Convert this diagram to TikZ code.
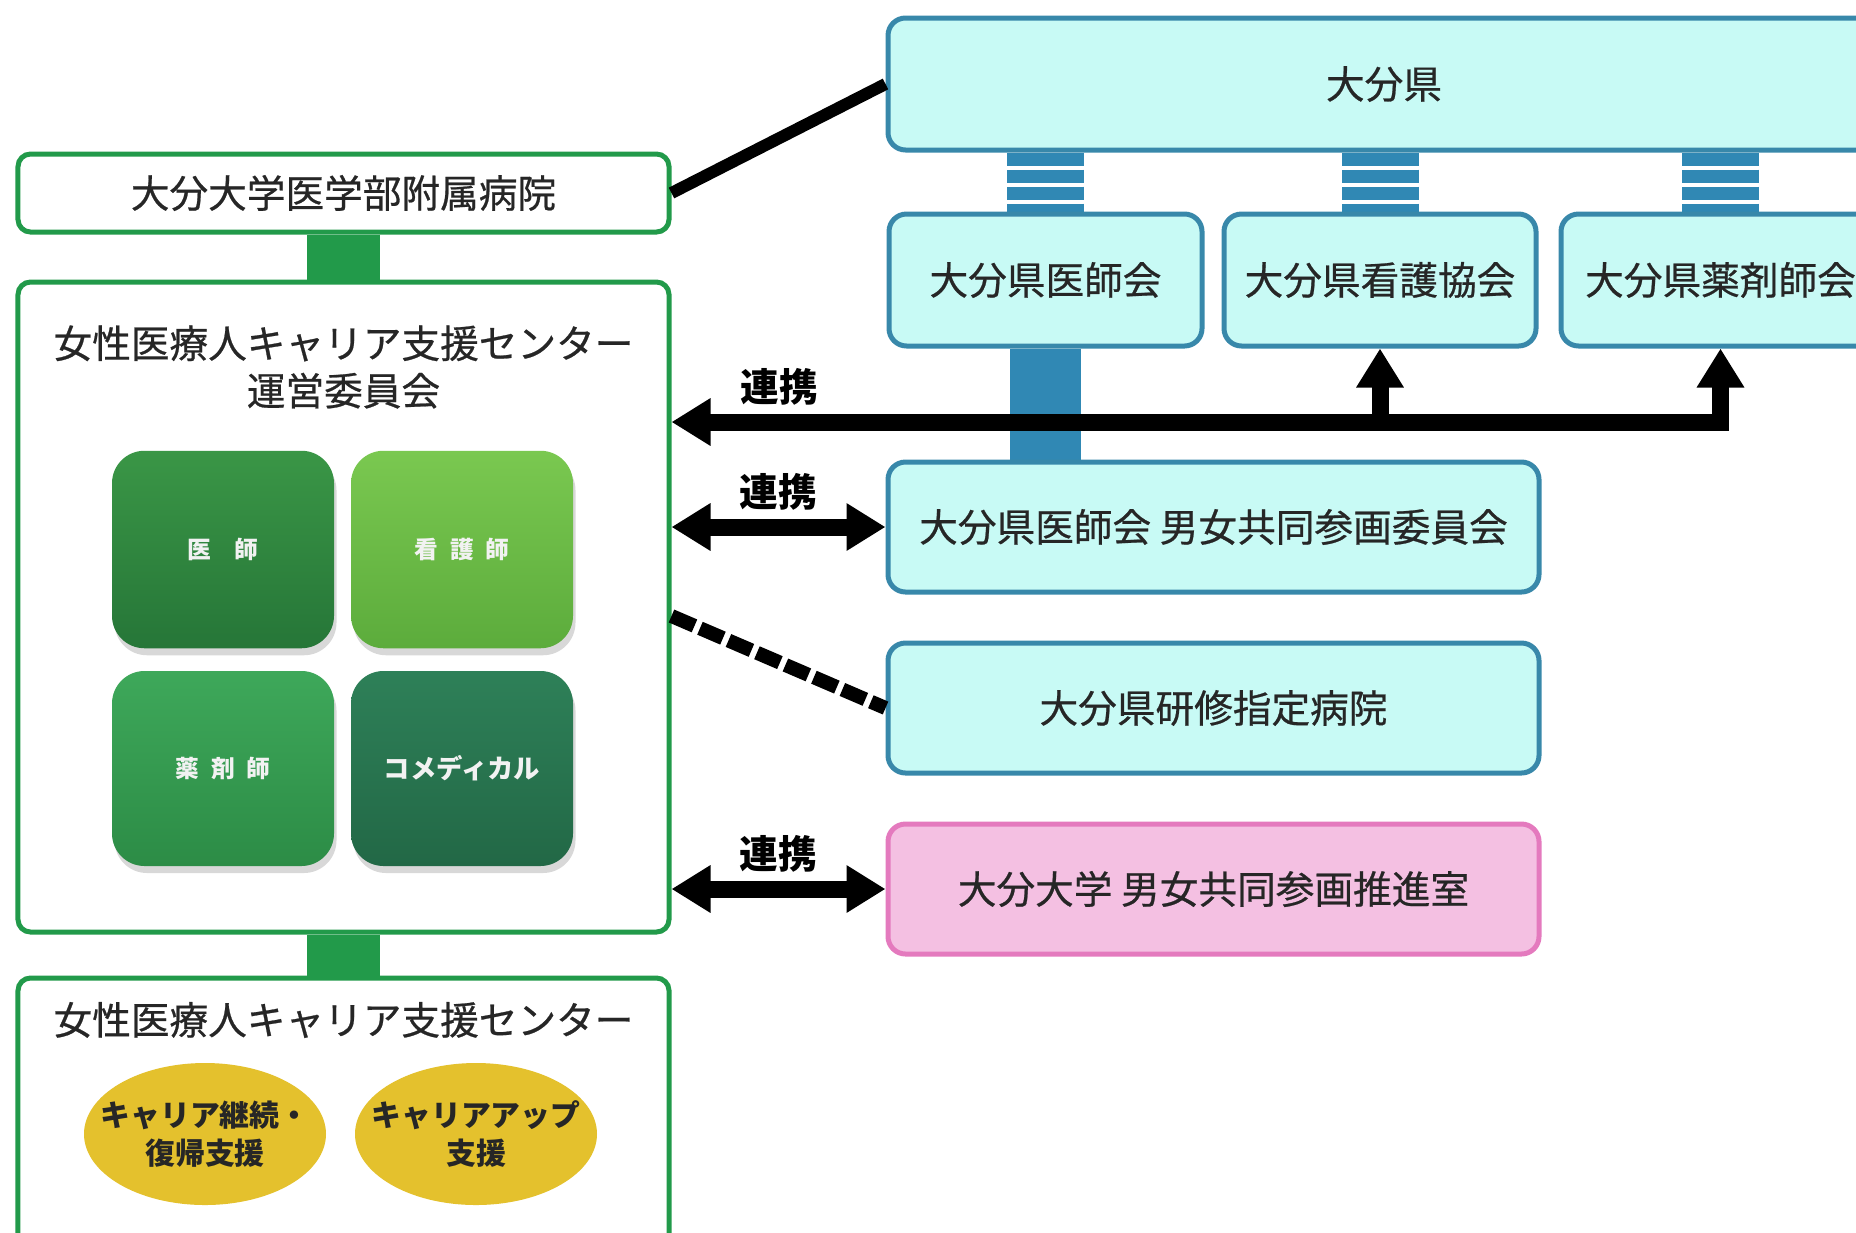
\documentclass[tikz,border=0pt]{standalone}
\usepackage{fontspec}
\setmainfont{Noto Sans CJK JP}
\newfontfamily\boxfont{Noto Sans CJK JP}[FakeBold=0.6]
\usetikzlibrary{arrows.meta, positioning, shapes.geometric, shadows, backgrounds}
\definecolor{oitagreen}{RGB}{34,154,74}
\definecolor{cyanfill}{RGB}{200,250,245}
\definecolor{cyanline}{RGB}{56,136,170}
\definecolor{barblue}{RGB}{48,136,180}
\definecolor{pinkfill}{RGB}{244,192,226}
\definecolor{pinkline}{RGB}{228,122,190}
\definecolor{ovalgold}{RGB}{228,193,45}
\definecolor{doctop}{RGB}{58,150,70}
\definecolor{docbot}{RGB}{38,118,56}
\definecolor{nursetop}{RGB}{122,200,80}
\definecolor{nursebot}{RGB}{92,172,60}
\definecolor{pharmtop}{RGB}{62,168,90}
\definecolor{pharmbot}{RGB}{44,140,70}
\definecolor{comedtop}{RGB}{46,128,88}
\definecolor{comedbot}{RGB}{34,104,70}

\begin{document}
\begin{tikzpicture}[
    txt/.style={text=black!85, font=\boxfont\fontsize{22}{27}\selectfont, align=center},
    gbox/.style={txt, draw=oitagreen, line width=0.1cm, fill=white, rectangle, rounded corners=0.25cm, minimum width=13.02cm},
    bbox/.style={txt, draw=cyanline, line width=0.1cm, fill=cyanfill, rectangle, rounded corners=0.35cm, minimum height=2.6cm},
    pbox/.style={bbox, draw=pinkline, fill=pinkfill},
    tile/.style={rectangle, rounded corners=0.65cm, minimum width=4.44cm, minimum height=3.95cm, text=white!95!black, font=\fontsize{13.5}{16}\selectfont\bfseries,
        drop shadow={shadow xshift=0.05cm, shadow yshift=-0.14cm, opacity=0.3}},
    oval/.style={ellipse, fill=ovalgold, inner xsep=-0.4cm, minimum width=4.84cm, minimum height=2.84cm, align=center, text=black!85, font=\fontsize{17}{21.5}\selectfont\bfseries},
    gbar/.style={draw=oitagreen, line width=1.46cm},
    bbar/.style={draw=barblue, line width=1.42cm},
    stripebar/.style={draw=barblue, line width=1.54cm, dash pattern=on 0.26cm off 0.08cm},
    link/.style={line width=0.24cm},
    coop/.style={line width=0.34cm},
    coopl/.style={font=\fontsize{22}{26}\selectfont\bfseries},
    dashlink/.style={line width=0.28cm, dash pattern=on 0.5cm off 0.12cm},
    tip/.tip={Triangle[length=0.78cm, width=0.9cm]}
]
% Frame
\useasboundingbox (0,0) rectangle (37.12,-24.64);
\clip (0,0) rectangle (37.12,-24.64);

% Hospital and committee
\node[gbox, minimum height=1.56cm] (hosp) at (6.87,-3.86) {大分大学医学部附属病院};
\node[gbox, minimum height=13cm] (comm) at (6.87,-12.14) {};
\node[txt] (commtitle) at (6.87,-7.34) {女性医療人キャリア支援センター\\運営委員会};

% Member tiles
\node[tile, top color=doctop, bottom color=docbot] (doctor) at (4.46,-10.99) {医\quad 師};
\node[tile, top color=nursetop, bottom color=nursebot] (nursing) at (9.24,-10.99) {看\enspace 護\enspace 師};
\node[tile, top color=pharmtop, bottom color=pharmbot, minimum height=3.9cm] (pharmacist) at (4.46,-15.37) {薬\enspace 剤\enspace 師};
\node[tile, top color=comedtop, bottom color=comedbot, minimum height=3.9cm, font=\fontsize{15}{18}\selectfont\bfseries] (comedical) at (9.24,-15.37) {コメディカル};

% Support center
\node[gbox, minimum height=5.94cm] (center) at (6.87,-22.53) {};
\node[txt] (centertitle) at (6.87,-20.4) {女性医療人キャリア支援センター};
\node[oval] (keizoku) at (4.1,-22.68) {キャリア継続・\\復帰支援};
\node[oval] (careerup) at (9.52,-22.68) {キャリアアップ\\支援};

% Prefecture and associations
\node[bbox, minimum width=19.84cm, minimum height=2.64cm] (pref) at (27.68,-1.68) {大分県};
\node[bbox, minimum width=6.26cm, minimum height=2.64cm] (med) at (20.91,-5.6) {大分県医師会};
\node[bbox, minimum width=6.24cm, minimum height=2.64cm] (nurse) at (27.6,-5.6) {大分県看護協会};
\node[bbox, minimum width=6.38cm, minimum height=2.64cm] (pharm) at (34.41,-5.6) {大分県薬剤師会};

% Partners
\node[bbox, minimum width=13.02cm] (medgender) at (24.27,-10.54) {大分県医師会 男女共同参画委員会};
\node[bbox, minimum width=13.02cm] (training) at (24.27,-14.16) {大分県研修指定病院};
\node[pbox, minimum width=13.02cm] (univgender) at (24.27,-17.78) {大分大学 男女共同参画推進室};

% Bars behind the boxes
\begin{scope}[on background layer]
\draw[gbar] (hosp.south) -- (comm.north);
\draw[gbar] (comm.south) -- (center.north);
\foreach \assoc in {med, nurse, pharm}
    \draw[stripebar] (pref.south -| \assoc.north) -- (\assoc.north);
\draw[bbar] (med.south) -- (medgender.north -| med.south);
\end{scope}

% Hospital to prefecture
\draw[link] (hosp.east) -- (pref.west);

% Cooperation with associations
\coordinate (turn) at (pharm.south |- 0,-8.44);
\draw[coop, tip-tip] (turn -| comm.east) -- node[pos=0.103, above=0.05cm, coopl] {連携} (turn) -- (pharm.south);
\draw[coop, -tip] (turn -| nurse.south) -- (nurse.south);

% Cooperation with committees
\draw[coop, tip-tip] (comm.east |- medgender.west) -- node[above=0.05cm, coopl] {連携} (medgender.west);
\draw[coop, tip-tip] (comm.east |- univgender.west) -- node[above=0.05cm, coopl] {連携} (univgender.west);

% Training hospitals
\draw[dashlink] ([yshift=-0.18cm]comm.east) -- (training.west);

\end{tikzpicture}
\end{document}
